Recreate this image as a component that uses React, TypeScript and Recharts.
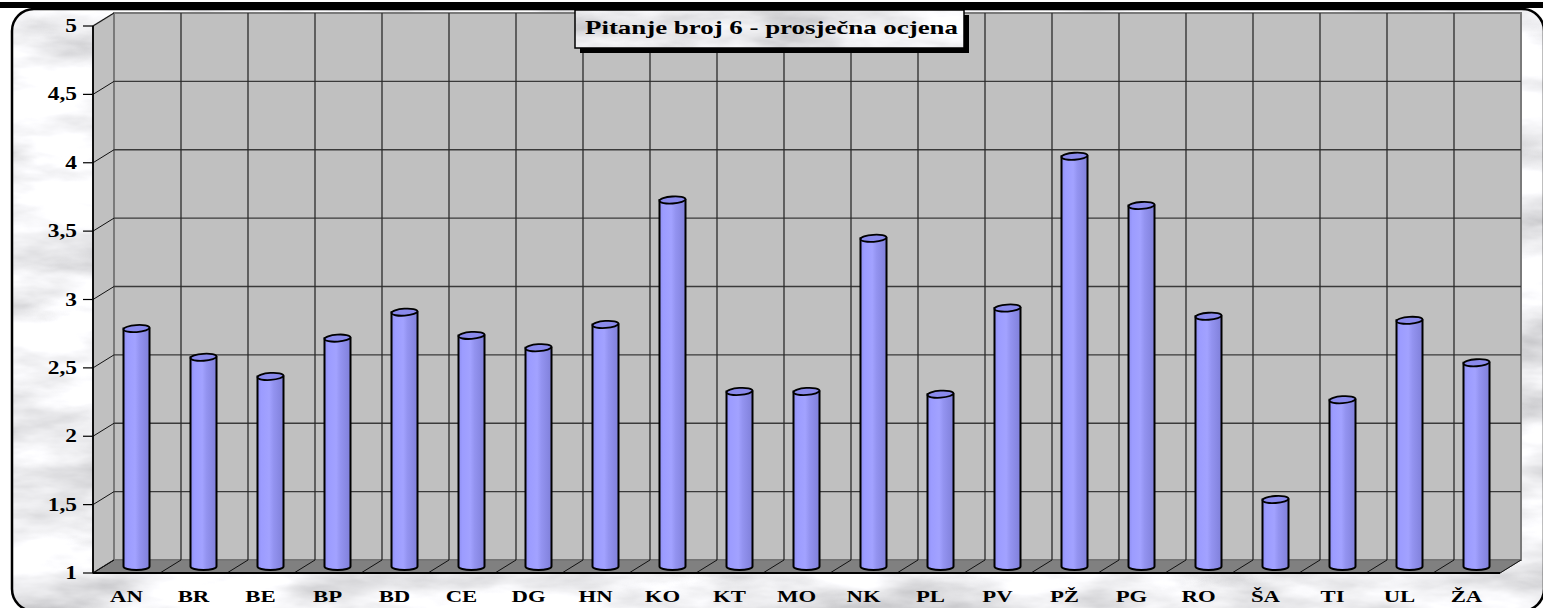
import React from 'react';
import { BarChart, Bar, XAxis, YAxis, ReferenceArea } from 'recharts';

const categories = ['AN', 'BR', 'BE', 'BP', 'BD', 'CE', 'DG', 'HN', 'KO', 'KT', 'MO', 'NK', 'PL', 'PV', 'PŽ', 'PG', 'RO', 'ŠA', 'TI', 'UL', 'ŽA'];
const values = [2.74, 2.53, 2.39, 2.67, 2.86, 2.69, 2.6, 2.77, 3.68, 2.28, 2.28, 3.4, 2.26, 2.89, 4.0, 3.64, 2.83, 1.49, 2.22, 2.8, 2.49];
const yTicks = [1, 1.5, 2, 2.5, 3, 3.5, 4, 4.5, 5];
const title = 'Pitanje broj 6 - prosječna ocjena';

const data = categories.map((name, i) => ({ name, pos: i + 0.5, value: values[i] }));
const centerTicks = data.map((d) => d.pos);
const boundaryTicks = categories.map((_, i) => i).concat(categories.length);
const yMin = yTicks[0];
const yMax = yTicks[yTicks.length - 1];

const W = 1543;
const H = 608;
const DX = 21;
const DY = 13;
const FONT = '"Liberation Serif", "Times New Roman", serif';

const Walls = (props: any) => {
  const { x, y, width, height } = props;
  const L = x, T = y, R = x + width, B = y + height;
  const n = categories.length;
  return (
    <g>
      <polygon points={`${L},${T} ${L + DX},${T - DY} ${L + DX},${B - DY} ${L},${B}`} fill="#c0c0c0" stroke="#808080" strokeWidth={1.5} />
      <rect x={L + DX} y={T - DY} width={width} height={height} fill="#c0c0c0" stroke="#7a7a7a" strokeWidth={2} />
      <polygon points={`${L},${B} ${R},${B} ${R + DX},${B - DY} ${L + DX},${B - DY}`} fill="#808080" stroke="#6e6e6e" strokeWidth={1} />
      {yTicks.map((v) => {
        const yy = T + (height * (yMax - v)) / (yMax - yMin);
        return (
          <g key={'h' + v}>
            {v !== yMin && v !== yMax && (
              <line x1={L + DX} y1={yy - DY} x2={R + DX} y2={yy - DY} stroke="#3a3a3a" strokeWidth={1.3} />
            )}
            <line x1={L} y1={yy} x2={L + DX} y2={yy - DY} stroke="#111" strokeWidth={1} />
          </g>
        );
      })}
      {boundaryTicks.map((i) => {
        const xx = L + (width * i) / n;
        return (
          <g key={'v' + i}>
            {i !== 0 && i !== n && (
              <line x1={xx + DX} y1={T - DY} x2={xx + DX} y2={B - DY} stroke="#2a2a2a" strokeWidth={1.3} />
            )}
            <line x1={xx} y1={B} x2={xx + DX} y2={B - DY} stroke="#111" strokeWidth={1} />
          </g>
        );
      })}
    </g>
  );
};

const Cylinder = (props: any) => {
  const { x, y, width, height } = props;
  if (width == null || height == null) return <g />;
  const x0 = x + DX / 2;
  const y0 = y - DY / 2;
  const rx = width / 2;
  const ry = 3.5;
  const cx = x0 + rx;
  return (
    <g>
      <path
        d={`M${x0},${y0} L${x0},${y0 + height} A${rx},${ry} 0 0 0 ${x0 + width},${y0 + height} L${x0 + width},${y0} Z`}
        fill="url(#cylGrad)"
        stroke="#000"
        strokeWidth={2}
      />
      <ellipse cx={cx} cy={y0} rx={rx} ry={ry} fill="#8a8aec" stroke="#000" strokeWidth={1.8} transform={`rotate(-4 ${cx} ${y0})`} />
    </g>
  );
};

const YTick = (props: any) => {
  const { x, y, payload } = props;
  return (
    <text transform={`translate(${x},${y}) scale(1.3,1)`} textAnchor="end" dominantBaseline="central" fontFamily={FONT} fontWeight={700} fontSize={18} fill="#000">
      {String(payload.value).replace('.', ',')}
    </text>
  );
};

const XTick = (props: any) => {
  const { x, y, payload } = props;
  const label = categories[Math.round(payload.value - 0.5)];
  return (
    <text transform={`translate(${x},${y}) scale(1.3,1)`} textAnchor="middle" dy={21} fontFamily={FONT} fontWeight={700} fontSize={17.5} fill="#000">
      {label}
    </text>
  );
};

export default function App() {
  return (
    <div style={{ position: 'absolute', left: 0, top: 0, width: W, height: H, background: '#fff', overflow: 'hidden' }}>
      <svg width={W} height={H} style={{ position: 'absolute', left: 0, top: 0 }}>
        <defs>
          <filter id="marble" x="0" y="0" width="100%" height="100%" filterUnits="userSpaceOnUse">
            <feTurbulence type="fractalNoise" baseFrequency="0.007 0.022" numOctaves={5} seed={7} />
            <feColorMatrix type="matrix" values="1.0 0 0 0 0.38  1.0 0 0 0 0.38  1.0 0 0 0 0.4  0 0 0 0 1" />
          </filter>
          <clipPath id="frameClip">
            <rect x={12} y={9} width={1532} height={602} rx={22} />
          </clipPath>
          <linearGradient id="cylGrad" x1="0" y1="0" x2="1" y2="0">
            <stop offset="0" stopColor="#8f8ff2" />
            <stop offset="0.15" stopColor="#9c9cff" />
            <stop offset="0.45" stopColor="#a2a2ff" />
            <stop offset="0.62" stopColor="#9393f0" />
            <stop offset="1" stopColor="#8080da" />
          </linearGradient>
        </defs>
        <g clipPath="url(#frameClip)">
          <rect x={0} y={0} width={W} height={H} filter="url(#marble)" />
        </g>
        <rect x={12} y={9} width={1532} height={602} rx={22} fill="none" stroke="#000" strokeWidth={2.5} />
        <rect x={0} y={2} width={W} height={6} fill="#000" />
      </svg>

      <div style={{ position: 'absolute', left: 0, top: 0 }}>
        <BarChart width={W} height={H} data={data} margin={{ top: 26, right: 43, bottom: 0, left: 33 }}>
          <XAxis
            xAxisId="b"
            type="number"
            dataKey="pos"
            domain={[0, categories.length]}
            ticks={boundaryTicks}
            height={8}
            tick={false}
            tickSize={8}
            axisLine={{ stroke: '#000', strokeWidth: 1.8 }}
            tickLine={{ stroke: '#000', strokeWidth: 1.2 }}
          />
          <XAxis
            xAxisId="l"
            type="number"
            dataKey="pos"
            domain={[0, categories.length]}
            ticks={centerTicks}
            height={27}
            axisLine={false}
            tickLine={false}
            tickSize={0}
            tickMargin={0}
            interval={0}
            tick={<XTick />}
          />
          <YAxis
            type="number"
            domain={[yMin, yMax]}
            ticks={yTicks}
            width={60}
            interval={0}
            allowDataOverflow
            tickSize={10}
            tickMargin={6}
            axisLine={{ stroke: '#000', strokeWidth: 1.8 }}
            tickLine={{ stroke: '#000', strokeWidth: 1.2 }}
            tick={<YTick />}
          />
          <ReferenceArea xAxisId="b" x1={0} x2={categories.length} y1={yMin} y2={yMax} shape={<Walls />} ifOverflow="visible" />
        </BarChart>
      </div>

      <div style={{ position: 'absolute', left: 0, top: 0 }}>
        <BarChart width={W} height={H} data={data} margin={{ top: 26, right: 43, bottom: 35, left: 93 }}>
          <XAxis xAxisId="b" type="number" dataKey="pos" domain={[0, categories.length]} hide />
          <YAxis type="number" domain={[yMin, yMax]} hide allowDataOverflow />
          <Bar xAxisId="b" dataKey="value" barSize={26} shape={<Cylinder />} isAnimationActive={false} />
        </BarChart>
      </div>

      <svg width={W} height={H} style={{ position: 'absolute', left: 0, top: 0, pointerEvents: 'none' }}>
        <defs>
          <clipPath id="titleClip">
            <rect x={575} y={10} width={389} height={38} />
          </clipPath>
        </defs>
        <rect x={580} y={15} width={389} height={38} fill="#000" />
        <g clipPath="url(#titleClip)">
          <rect x={0} y={0} width={W} height={H} filter="url(#marble)" />
        </g>
        <rect x={575} y={10} width={389} height={38} fill="none" stroke="#000" strokeWidth={1.5} />
        <text x={585} y={34} textLength={373} lengthAdjust="spacingAndGlyphs" fontFamily={FONT} fontWeight={700} fontSize={19} fill="#000">
          {title}
        </text>
      </svg>
    </div>
  );
}
